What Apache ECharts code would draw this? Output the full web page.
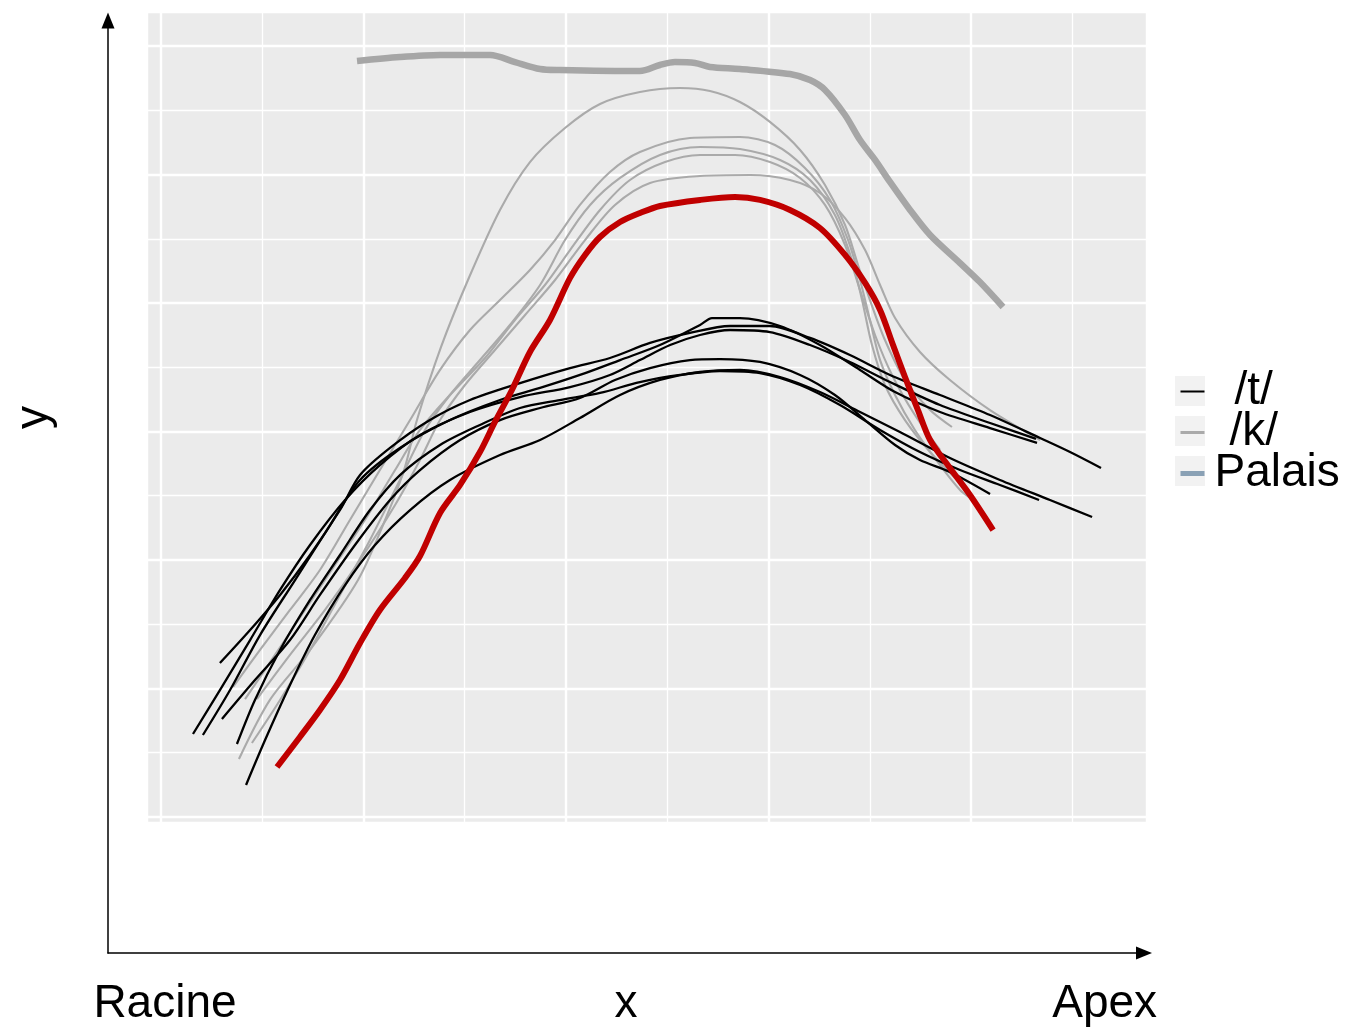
<!DOCTYPE html>
<html>
<head>
<meta charset="utf-8">
<script src="https://cdn.jsdelivr.net/npm/echarts@6/dist/echarts.min.js"></script>
<style>
  html, body { margin: 0; padding: 0; background: #fff; }
  #chart { width: 1351px; height: 1029px; }
</style>
</head>
<body>
<div id="chart"></div>
<script>
// Trajectoires de la langue, de la racine vers l'apex.
// Courbes /t/ (noires)
const t1 = [[0.158,0.646],[0.291,0.988],[0.440,1.377],[0.588,1.767],[0.736,2.117],[0.909,2.467],[1.081,2.739],[1.279,2.973],[1.526,3.152],[1.773,3.268],[2.020,3.346],[2.217,3.440],[2.365,3.556],[2.514,3.673],[2.662,3.751],[2.810,3.790],[3.007,3.774],[3.205,3.673],[3.402,3.541],[3.600,3.385],[3.847,3.206],[4.094,3.066],[4.321,2.942]];
const t2 = [[0.207,0.638],[0.341,0.988],[0.489,1.416],[0.662,1.844],[0.835,2.272],[0.983,2.623],[1.180,2.872],[1.427,3.089],[1.674,3.245],[1.872,3.339],[2.069,3.440],[2.267,3.556],[2.464,3.673],[2.662,3.829],[2.721,3.883],[2.859,3.883],[3.057,3.821],[3.254,3.673],[3.452,3.479],[3.625,3.307],[3.847,3.152],[4.094,3.027],[4.326,2.911]];
const t3 = [[0.291,1.198],[0.440,1.455],[0.588,1.728],[0.736,2.039],[0.884,2.389],[0.983,2.661],[1.131,2.872],[1.328,3.089],[1.526,3.245],[1.773,3.377],[2.020,3.494],[2.217,3.572],[2.415,3.689],[2.612,3.767],[2.810,3.821],[3.007,3.821],[3.205,3.728],[3.402,3.595],[3.600,3.440],[3.847,3.284],[4.094,3.128],[4.341,2.949],[4.489,2.840],[4.642,2.716]];
const t4 = [[0.301,0.763],[0.464,1.066],[0.637,1.377],[0.785,1.728],[0.958,2.117],[1.131,2.467],[1.279,2.700],[1.477,2.934],[1.674,3.089],[1.872,3.183],[2.069,3.261],[2.242,3.401],[2.415,3.494],[2.612,3.556],[2.760,3.564],[2.958,3.541],[3.156,3.440],[3.328,3.284],[3.477,3.089],[3.625,2.895],[3.748,2.778],[3.896,2.685],[4.094,2.514]];
const t5 = [[0.375,0.568],[0.464,0.911],[0.588,1.300],[0.736,1.689],[0.884,2.039],[1.032,2.389],[1.180,2.661],[1.378,2.895],[1.575,3.051],[1.773,3.183],[1.970,3.245],[2.168,3.300],[2.365,3.385],[2.563,3.440],[2.760,3.471],[2.958,3.455],[3.156,3.362],[3.353,3.206],[3.551,3.012],[3.748,2.840],[3.946,2.700],[4.143,2.584],[4.336,2.467]];
const t6 = [[0.420,0.249],[0.514,0.599],[0.637,1.027],[0.760,1.416],[0.909,1.805],[1.057,2.117],[1.230,2.389],[1.427,2.623],[1.674,2.817],[1.872,2.934],[2.069,3.105],[2.267,3.284],[2.464,3.401],[2.662,3.463],[2.859,3.479],[3.057,3.424],[3.254,3.307],[3.452,3.152],[3.649,2.996],[3.896,2.794],[4.143,2.623],[4.390,2.467],[4.598,2.335]];

// Courbes /k/ (grises)
const k1 = [[0.385,0.451],[0.538,0.911],[0.736,1.300],[0.973,1.844],[1.121,2.366],[1.205,2.724],[1.264,3.089],[1.383,3.658],[1.516,4.179],[1.674,4.724],[1.822,5.097],[1.995,5.362],[2.168,5.549],[2.365,5.642],[2.563,5.673],[2.711,5.650],[2.859,5.564],[3.007,5.409],[3.156,5.191],[3.279,4.918],[3.378,4.607],[3.442,4.296],[3.501,4.023],[3.575,3.712],[3.674,3.401],[3.798,3.167],[3.906,3.035]];
const k2 = [[0.356,1.012],[0.489,1.300],[0.637,1.611],[0.785,1.922],[0.933,2.311],[1.081,2.700],[1.230,3.089],[1.378,3.479],[1.526,3.790],[1.674,4.023],[1.822,4.257],[1.946,4.490],[2.069,4.763],[2.217,5.019],[2.365,5.175],[2.612,5.284],[2.859,5.292],[3.032,5.230],[3.180,5.051],[3.304,4.802],[3.393,4.490],[3.452,4.179],[3.501,3.868],[3.551,3.556],[3.625,3.284],[3.723,3.012],[3.847,2.739],[3.946,2.545],[3.990,2.490]];
const k3 = [[0.449,0.576],[0.588,0.911],[0.736,1.300],[0.884,1.728],[1.032,2.156],[1.180,2.623],[1.304,3.012],[1.427,3.284],[1.575,3.556],[1.723,3.829],[1.872,4.140],[1.995,4.490],[2.119,4.763],[2.267,4.973],[2.464,5.152],[2.662,5.214],[2.859,5.198],[3.057,5.113],[3.205,4.957],[3.328,4.685],[3.412,4.335],[3.462,4.023],[3.511,3.673],[3.575,3.362],[3.674,3.089],[3.798,2.840],[3.921,2.638]];
const k4 = [[0.415,0.918],[0.563,1.261],[0.711,1.611],[0.859,1.961],[1.007,2.311],[1.156,2.700],[1.279,3.012],[1.427,3.284],[1.600,3.572],[1.748,3.868],[1.896,4.140],[2.020,4.412],[2.168,4.724],[2.316,4.957],[2.489,5.097],[2.662,5.152],[2.835,5.152],[3.007,5.097],[3.156,4.973],[3.279,4.763],[3.378,4.451],[3.452,4.101],[3.526,3.751],[3.610,3.440],[3.723,3.128],[3.847,2.856]];
const k5 = [[0.474,0.918],[0.637,1.261],[0.810,1.611],[0.983,2.000],[1.156,2.428],[1.279,2.778],[1.378,3.089],[1.501,3.362],[1.649,3.634],[1.798,3.907],[1.946,4.179],[2.094,4.490],[2.242,4.763],[2.415,4.934],[2.662,4.988],[2.909,4.996],[3.106,4.957],[3.254,4.856],[3.378,4.661],[3.477,4.412],[3.551,4.140],[3.625,3.883],[3.748,3.619],[3.896,3.401],[4.094,3.167],[4.341,2.934]];

// Palais
const palais = [[0.968,5.883],[1.180,5.914],[1.378,5.930],[1.625,5.930],[1.748,5.875],[1.872,5.821],[1.970,5.813],[2.365,5.805],[2.464,5.852],[2.538,5.875],[2.637,5.868],[2.711,5.837],[2.859,5.821],[3.106,5.782],[3.205,5.735],[3.279,5.658],[3.378,5.463],[3.452,5.268],[3.526,5.113],[3.600,4.942],[3.699,4.724],[3.798,4.529],[3.946,4.311],[4.044,4.163],[4.158,3.969]];

// Trajectoire mise en évidence (rouge)
const cible = [[0.573,0.389],[0.686,0.623],[0.785,0.833],[0.884,1.066],[0.983,1.354],[1.081,1.611],[1.205,1.860],[1.279,2.031],[1.378,2.366],[1.477,2.584],[1.575,2.840],[1.649,3.074],[1.733,3.323],[1.822,3.619],[1.921,3.868],[2.020,4.195],[2.094,4.374],[2.168,4.514],[2.267,4.630],[2.365,4.700],[2.464,4.755],[2.662,4.802],[2.835,4.825],[2.958,4.802],[3.106,4.724],[3.254,4.584],[3.378,4.374],[3.477,4.156],[3.551,3.946],[3.615,3.673],[3.674,3.424],[3.738,3.167],[3.798,2.934],[3.896,2.716],[3.995,2.506],[4.109,2.233]];

const tCurves = [t1, t2, t3, t4, t5, t6];
const kCurves = [k1, k2, k3, k4, k5];

// Libellés des extrémités de l'axe horizontal
const xEndLabels = ['Racine', 'Apex'];
const xEndPositions = [0.055, 0.962];
const legendNames = ['/t/', '/k/', 'Palais'];

const FONT = "'Liberation Sans', Arial, Helvetica, sans-serif";
const TXT = 46;

function curve(name, data, color, width, z) {
  return {
    type: 'line', name: name, data: data,
    xAxisIndex: 0, yAxisIndex: 0,
    smooth: 0.3, showSymbol: false, symbol: 'circle',
    itemStyle: { color: color, opacity: 0 },
    lineStyle: { color: color, width: width, cap: 'butt', join: 'round' },
    z: z, silent: true, animation: false,
    emphasis: { disabled: true }
  };
}

const series = [];
kCurves.forEach(d => series.push(curve('/k/', d, '#aaaaaa', 2.1, 2)));
tCurves.forEach(d => series.push(curve('/t/', d, '#000000', 2.3, 3)));
series.push(curve('Palais', palais, '#a6a6a6', 6.5, 4));
series.push(curve('cible', cible, '#c00000', 6, 5));

const legendPad = { '/t/': 25, '/k/': 20, 'Palais': 5 };
const richKey = { '/t/': 'a', '/k/': 'b', 'Palais': 'c' };
const rich = {};
Object.keys(legendPad).forEach(n => {
  rich[richKey[n]] = { fontSize: TXT, fontFamily: FONT, color: '#000', lineHeight: 40, padding: [0, 0, 0, legendPad[n]] };
});

const chart = echarts.init(document.getElementById('chart'), null, { renderer: 'canvas' });
chart.setOption({
  backgroundColor: '#ffffff',
  animation: false,
  textStyle: { fontFamily: FONT },
  grid: [
    { left: 147, top: 12, width: 1000, height: 811, show: true, backgroundColor: '#ebebeb', borderWidth: 0,
      containLabel: false, outerBoundsMode: 'none' },
    { left: 108, top: 20.5, width: 1036, height: 932.5, show: false,
      containLabel: false, outerBoundsMode: 'none' }
  ],
  xAxis: [
    {
      gridIndex: 0, type: 'value', min: -0.0691, max: 4.8691,
      minInterval: 1, maxInterval: 1,
      axisLine: { show: false }, axisTick: { show: false }, axisLabel: { show: false },
      splitLine: { show: true, lineStyle: { color: '#ffffff', width: 2.4 } },
      minorTick: { show: false, splitNumber: 2 },
      minorSplitLine: { show: true, lineStyle: { color: '#ffffff', width: 1.3 } }
    },
    {
      gridIndex: 1, type: 'value', min: 0, max: 1,
      axisLine: { show: true, onZero: false, symbol: ['none', 'triangle'], symbolSize: [13, 16],
                  lineStyle: { color: '#000', width: 1.5 } },
      axisTick: { show: false }, splitLine: { show: false },
      axisLabel: {
        show: true, customValues: xEndPositions, margin: 28,
        fontSize: TXT, fontFamily: FONT, color: '#000',
        formatter: v => xEndLabels[xEndPositions.indexOf(v)] || ''
      },
      name: 'x', nameLocation: 'middle', nameGap: 28, nameMoveOverlap: false,
      nameTextStyle: { fontSize: TXT, fontFamily: FONT, color: '#000', verticalAlign: 'top' }
    }
  ],
  yAxis: [
    {
      gridIndex: 0, type: 'value', min: -0.0467, max: 6.2646,
      minInterval: 1, maxInterval: 1,
      axisLine: { show: false }, axisTick: { show: false }, axisLabel: { show: false },
      splitLine: { show: true, lineStyle: { color: '#ffffff', width: 2.4 } },
      minorTick: { show: false, splitNumber: 2 },
      minorSplitLine: { show: true, lineStyle: { color: '#ffffff', width: 1.3 } },
      name: 'y', nameLocation: 'middle', nameRotate: 90, nameGap: 90, nameMoveOverlap: false,
      nameTextStyle: { fontSize: TXT, fontFamily: FONT, color: '#000' }
    },
    {
      gridIndex: 1, type: 'value', min: 0, max: 1,
      axisLine: { show: true, onZero: false, symbol: ['none', 'triangle'], symbolSize: [13, 16],
                  lineStyle: { color: '#000', width: 1.5 } },
      axisTick: { show: false }, axisLabel: { show: false }, splitLine: { show: false }
    }
  ],
  legend: {
    orient: 'vertical', left: 1178, top: 368.5, padding: 0,
    itemWidth: 24, itemHeight: 30, itemGap: -5,
    selectedMode: false,
    itemStyle: { opacity: 0 },
    data: [
      { name: '/t/' },
      { name: '/k/', lineStyle: { width: 3 } },
      { name: 'Palais', lineStyle: { color: '#8aa1b5', width: 5 } }
    ],
    formatter: n => '{' + richKey[n] + '|' + n + '}',
    textStyle: { fontSize: TXT, fontFamily: FONT, color: '#000', lineHeight: 40, rich: rich }
  },
  graphic: legendNames.map((n, i) => ({
    type: 'rect', left: 1175, top: 376 + i * 40, z: 1, silent: true,
    shape: { width: 30, height: 30 }, style: { fill: '#f2f2f2' }
  })),
  series: series
});
</script>
</body>
</html>
